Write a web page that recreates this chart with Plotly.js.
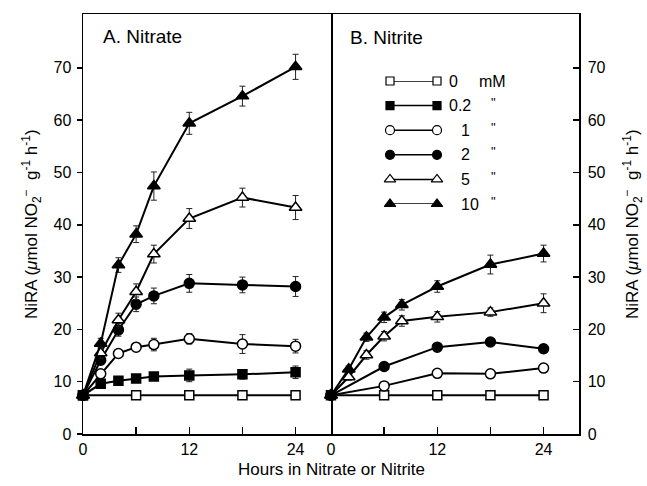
<!DOCTYPE html>
<html><head><meta charset="utf-8">
<script src="https://cdn.plot.ly/plotly-3.0.1.min.js"></script>
<style>body{margin:0;background:#fff}#c{width:647px;height:486px}</style>
</head><body><div id="c"></div>
<script>
// ---- data ----
const hoursAll = [0, 2, 4, 6, 8, 12, 18, 24];
const hoursFew = [0, 6, 12, 18, 24];

// A. Nitrate
const nitrate_0   = [7.4, 7.4, 7.4, 7.4, 7.4];            // hoursFew
const nitrate_02  = [7.4, 9.6, 10.2, 10.6, 11.0, 11.2, 11.4, 11.8];
const nitrate_02e = [0, 0.5, 0.6, 0.6, 0.6, 1.2, 0.9, 1.2];
const nitrate_1   = [7.4, 11.5, 15.4, 16.6, 17.1, 18.2, 17.2, 16.8];
const nitrate_1e  = [0, 0.6, 0.7, 0.8, 1.2, 1.0, 1.8, 1.3];
const nitrate_2   = [7.4, 14.1, 19.9, 24.8, 26.4, 28.8, 28.5, 28.2];
const nitrate_2e  = [0, 0.8, 1.2, 1.4, 1.5, 1.7, 1.5, 1.9];
const nitrate_5   = [7.4, 15.5, 21.8, 27.2, 34.4, 41.2, 45.2, 43.3];
const nitrate_5e  = [0, 1.0, 1.3, 1.5, 1.7, 1.9, 1.8, 2.3];
const nitrate_10  = [7.4, 17.3, 32.3, 38.2, 47.4, 59.4, 64.6, 70.2];
const nitrate_10e = [0, 1.0, 1.4, 1.6, 2.7, 2.1, 1.9, 2.4];

// B. Nitrite
const nitrite_0   = [7.4, 7.4, 7.4, 7.4, 7.4];            // hoursFew
const nitrite_1   = [7.4, 9.2, 11.6, 11.5, 12.6];         // hoursFew
const nitrite_1e  = [0, 0.4, 0.6, 0.6, 0.6];
const nitrite_2   = [7.4, 12.9, 16.6, 17.6, 16.3];        // hoursFew
const nitrite_2e  = [0, 0.5, 0.6, 0.7, 0.8];
const nitrite_5   = [7.4, 10.9, 15.1, 18.7, 21.6, 22.4, 23.3, 25.0];
const nitrite_5e  = [0, 0.6, 0.8, 0.9, 1.0, 1.0, 0.8, 1.8];
const nitrite_10  = [7.4, 12.4, 18.5, 22.3, 24.7, 28.2, 32.4, 34.5];
const nitrite_10e = [0, 0.6, 0.8, 1.0, 1.0, 1.1, 1.8, 1.6];

const legendLabels = ['0', '0.2', '1', '2', '5', '10'];
const legendUnits  = ['mM', '"', '"', '"', '"', '"'];
const yTicks = [0, 10, 20, 30, 40, 50, 60, 70];
const xTicks = [0, 6, 12, 18, 24];
const xTickText = ['0', '', '12', '', '24'];

// ---- styles ----
const FONT = 'Liberation Sans, Arial, Helvetica, sans-serif';
const symbols = ['square', 'square', 'circle', 'circle', 'triangle-up', 'triangle-up'];
const fills   = ['white', 'black', 'white', 'black', 'white', 'black'];
const sizes   = [9, 9, 10, 10, 11, 11];
const px = v => (v - 83) / 496;     // pixel x -> paper
const py = v => (434 - v) / 420;    // pixel y -> paper

function series(x, y, err, idx, xa, ya) {
  const t = {
    x: x, y: y, type: 'scatter', mode: 'lines+markers',
    xaxis: xa, yaxis: ya, showlegend: false, cliponaxis: false,
    line: {color: 'black', width: 2},
    marker: {symbol: symbols[idx], color: fills[idx], size: sizes[idx],
             line: {color: 'black', width: 1.5}}
  };
  if (err) t.error_y = {type: 'data', array: err, visible: true, color: '#222', thickness: 1, width: 3};
  return t;
}

const traces = [
  series(hoursFew, nitrate_0, null, 0, 'x', 'y'),
  series(hoursAll, nitrate_02, nitrate_02e, 1, 'x', 'y'),
  series(hoursAll, nitrate_1, nitrate_1e, 2, 'x', 'y'),
  series(hoursAll, nitrate_2, nitrate_2e, 3, 'x', 'y'),
  series(hoursAll, nitrate_5, nitrate_5e, 4, 'x', 'y'),
  series(hoursAll, nitrate_10, nitrate_10e, 5, 'x', 'y'),
  series(hoursFew, nitrite_0, null, 0, 'x2', 'y2'),
  series(hoursFew, nitrite_1, nitrite_1e, 2, 'x2', 'y2'),
  series(hoursFew, nitrite_2, nitrite_2e, 3, 'x2', 'y2'),
  series(hoursAll, nitrite_5, nitrite_5e, 4, 'x2', 'y2'),
  series(hoursAll, nitrite_10, nitrite_10e, 5, 'x2', 'y2')
];

// custom legend samples (line with marker at both ends)
legendLabels.forEach((lab, i) => {
  traces.push({
    x: [0, 1], y: [i, i], type: 'scatter', mode: 'lines+markers',
    xaxis: 'x3', yaxis: 'y3', showlegend: false, cliponaxis: false, hoverinfo: 'skip',
    line: {color: 'black', width: 1.5},
    marker: {symbol: symbols[i], color: fills[i], size: sizes[i] - 1,
             line: {color: 'black', width: 1.2}}
  });
});

const annotations = [
  {text: 'A. Nitrate', xref: 'paper', yref: 'paper', x: px(101), y: py(36),
   xanchor: 'left', yanchor: 'middle', showarrow: false, font: {size: 19, color: 'black', family: FONT}},
  {text: 'B. Nitrite', xref: 'paper', yref: 'paper', x: px(348), y: py(37),
   xanchor: 'left', yanchor: 'middle', showarrow: false, font: {size: 19, color: 'black', family: FONT}},
  {text: 'Hours in Nitrate or Nitrite', xref: 'paper', yref: 'paper', x: 0.5, y: py(470),
   xanchor: 'center', yanchor: 'middle', showarrow: false, font: {size: 17, color: 'black', family: FONT}}
];
const yTitle = 'NiRA (<i>μ</i>mol NO<sub>2</sub><sup>−</sup>  g<sup>-1</sup> h<sup>-1</sup>)';
annotations.push({text: yTitle, xref: 'paper', yref: 'paper', x: px(31), y: py(224),
  xanchor: 'center', yanchor: 'middle', textangle: -90, showarrow: false, font: {size: 17, color: 'black', family: FONT}});
annotations.push({text: yTitle, xref: 'paper', yref: 'paper', x: px(632), y: py(224),
  xanchor: 'center', yanchor: 'middle', textangle: -90, showarrow: false, font: {size: 17, color: 'black', family: FONT}});
legendLabels.forEach((lab, i) => {
  const wide = lab.charAt(0) === '0';
  annotations.push({text: lab, xref: 'paper', yref: 'y3', x: px(wide ? 447 : 459), y: i,
    xanchor: 'left', yanchor: 'middle', showarrow: false, font: {size: 16, color: 'black', family: FONT}});
  const isMM = legendUnits[i] === 'mM';
  annotations.push({text: legendUnits[i], xref: 'paper', yref: 'y3',
    x: px(isMM ? 477 : 493), y: i,
    xanchor: isMM ? 'left' : 'center', yanchor: 'middle', yshift: isMM ? 0 : 3, showarrow: false,
    font: {size: isMM ? 16 : 13, color: '#000000', family: FONT}});
});

const xCommon = {
  range: [0, 28], tickvals: xTicks, ticktext: xTickText, ticks: 'inside', ticklen: 7,
  tickwidth: 1.5, tickcolor: 'black', showline: true, linecolor: 'black', linewidth: 1.5,
  mirror: true, showgrid: false, zeroline: false,
  tickfont: {size: 16, color: 'black', family: FONT}
};
const layout = {
  width: 647, height: 486,
  margin: {l: 83, r: 68, t: 14, b: 52},
  paper_bgcolor: 'white', plot_bgcolor: 'white',
  font: {family: FONT, color: 'black'},
  showlegend: false,
  xaxis: Object.assign({}, xCommon, {domain: [0, 0.5], anchor: 'y'}),
  xaxis2: Object.assign({}, xCommon, {domain: [0.5, 1], anchor: 'y2'}),
  yaxis: {range: [0, 80.3], domain: [0, 1], anchor: 'x', tickvals: yTicks, ticks: 'outside', ticklen: 5,
          tickwidth: 1.5, tickcolor: 'black', showline: true, linecolor: 'black', linewidth: 1.5,
          mirror: true, showgrid: false, zeroline: false, ticklabelstandoff: 2,
          tickfont: {size: 16, color: 'black', family: FONT}},
  yaxis2: {range: [0, 80.3], domain: [0, 1], anchor: 'x2', side: 'right', tickvals: yTicks, ticks: 'inside', ticklen: 6,
          tickwidth: 1.5, tickcolor: 'black', showline: true, linecolor: 'black', linewidth: 1.5,
          mirror: false, showgrid: false, zeroline: false, ticklabelstandoff: 4,
          tickfont: {size: 16, color: 'black', family: FONT}},
  xaxis3: {domain: [px(390), px(437)], range: [0, 1], anchor: 'y3', visible: false, fixedrange: true},
  yaxis3: {domain: [py(204), py(81)], range: [5, 0], anchor: 'x3', visible: false, fixedrange: true},
  annotations: annotations
};
Plotly.newPlot('c', traces, layout, {staticPlot: true, displayModeBar: false});
</script>
</body></html>
